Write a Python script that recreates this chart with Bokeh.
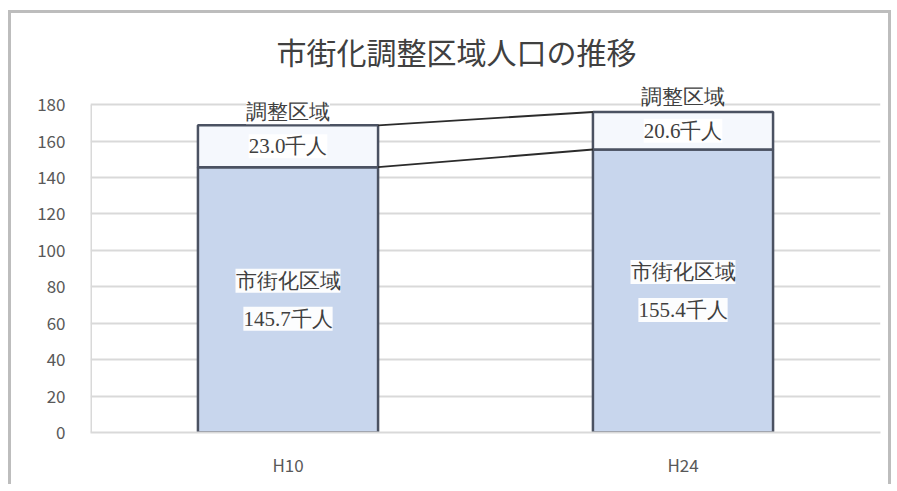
from bokeh.plotting import figure
from bokeh.models import ColumnDataSource, FixedTicker, LabelSet, Range1d, Title
from bokeh.embed import file_html
from bokeh.resources import INLINE

categories = ["H10", "H24"]
urban = [145.7, 155.4]
adjust = [23.0, 20.6]
urban_name = "市街化区域"
adjust_name = "調整区域"
y_ticks = [0, 20, 40, 60, 80, 100, 120, 140, 160, 180]

FONT = "Noto Sans CJK JP"
BAR_W = 0.456
Y_MAX = 180

xs = [i + 0.5 for i in range(len(categories))]
tops = [u + a for u, a in zip(urban, adjust)]

p = figure(width=883, height=474, output_backend="svg", toolbar_location=None,
           x_range=Range1d(0, 2), y_range=Range1d(0, 190),
           min_border_left=79, min_border_right=14, min_border_bottom=55, min_border_top=73)
p.styles = {"border": "3px solid #bdbdbd", "border-bottom": "none",
            "margin-left": "8px", "margin-top": "10px"}

p.title = Title(text="市街化調整区域人口の推移", align="left", offset=186,
                text_font=FONT, text_font_size="30px", text_color="#404040",
                text_font_style="normal", standoff=27)

src = ColumnDataSource(dict(x=xs, urban=urban, adjust=adjust, top=tops,
                            umid=[u / 2 for u in urban],
                            amid=[u + a / 2 for u, a in zip(urban, adjust)],
                            uval=[f"{u:.1f}千人" for u in urban],
                            aval=[f"{a:.1f}千人" for a in adjust],
                            uname=[urban_name] * 2, aname=[adjust_name] * 2))

p.ygrid.grid_line_color = "#d9d9d9"
p.ygrid.grid_line_width = 2
p.xgrid.grid_line_color = None

# left axis line, only up to the top tick
p.segment(x0=[0], y0=[0], x1=[0], y1=[Y_MAX], line_color="#d9d9d9", line_width=3)

p.vbar(x="x", bottom=0, top="urban", width=BAR_W, source=src,
       fill_color="#c8d6ed", line_color="#4b5262", line_width=2.5)
p.vbar(x="x", bottom="urban", top="top", width=BAR_W, source=src,
       fill_color="#f5f8fd", line_color="#4b5262", line_width=2.5)

# series lines between the bars
for vals in (urban, tops):
    p.line(x=[xs[0] + BAR_W / 2, xs[1] - BAR_W / 2], y=[vals[0], vals[1]],
           line_color="#2b2b2b", line_width=1.8)

lab_kw = dict(source=src, text_font=FONT, text_font_size="21px", text_color="#404040",
              text_align="center", text_baseline="middle",
              background_fill_color="white", background_fill_alpha=0.95)
p.add_layout(LabelSet(x="x", y="umid", text="uname", y_offset=19, **lab_kw))
p.add_layout(LabelSet(x="x", y="umid", text="uval", y_offset=-19, **lab_kw))
p.add_layout(LabelSet(x="x", y="amid", text="aval", y_offset=0, **lab_kw))
p.add_layout(LabelSet(x="x", y="amid", text="aname", y_offset=34, **lab_kw))

p.yaxis.ticker = FixedTicker(ticks=y_ticks)
p.xaxis.ticker = FixedTicker(ticks=xs)
p.xaxis.major_label_overrides = {x: c for x, c in zip(xs, categories)}
for ax in (p.xaxis, p.yaxis):
    ax.major_tick_line_color = None
    ax.minor_tick_line_color = None
    ax.major_tick_out = 0
    ax.major_tick_in = 0
    ax.major_label_text_font = FONT
    ax.major_label_text_font_size = "17px"
    ax.major_label_text_color = "#595959"
p.yaxis.axis_line_color = None
p.xaxis.axis_line_color = "#d9d9d9"
p.xaxis.axis_line_width = 2
p.xaxis.major_label_standoff = 19
p.yaxis.major_label_standoff = 25
p.outline_line_color = None

open("out.html", "w").write(file_html(p, INLINE))
